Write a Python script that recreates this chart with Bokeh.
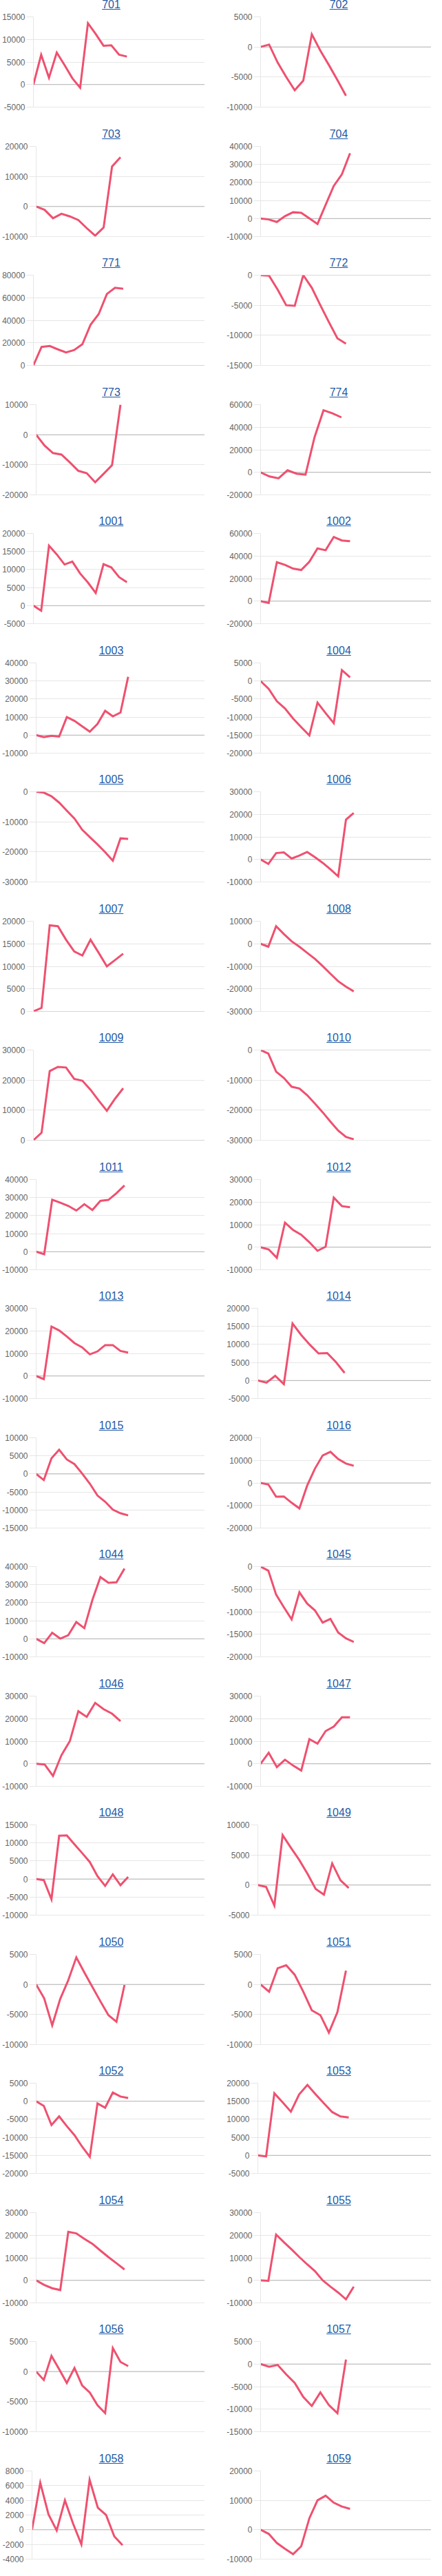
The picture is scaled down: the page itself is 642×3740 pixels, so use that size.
from bokeh.plotting import figure
from bokeh.models import Range1d, FixedTicker, NumeralTickFormatter, Span, Div, Spacer
from bokeh.layouts import row, column
from bokeh.embed import file_html
from bokeh.resources import INLINE

titles = ["701", "702", "703", "704", "771", "772", "773", "774",
          "1001", "1002", "1003", "1004", "1005", "1006", "1007", "1008",
          "1009", "1010", "1011", "1012", "1013", "1014", "1015", "1016",
          "1044", "1045", "1046", "1047", "1048", "1049", "1050", "1051",
          "1052", "1053", "1054", "1055", "1056", "1057", "1058", "1059"]

v701 = [0, 6600, 1500, 7100, 4300, 1400, -700, 13600, 11200, 8600, 8700, 6600, 6200]
v702 = [0, 400, -2600, -5000, -7200, -5600, 2100, -600, -3000, -5500, -8100]
v703 = [0, -1100, -3900, -2400, -3300, -4500, -7200, -9700, -7000, 13300, 16400]
v704 = [0, -500, -1900, 1300, 3500, 3200, 100, -3000, 7600, 18100, 24500, 36200]
v771 = [0, 16400, 17200, 14200, 11500, 13600, 18800, 36000, 45500, 63300, 68800, 68000]
v772 = [0, -100, -2400, -5000, -5100, 0, -2100, -5000, -7800, -10500, -11400]
v773 = [0, -3600, -6100, -6600, -9200, -12000, -12800, -15800, -13000, -10100, 10000]
v774 = [0, -3700, -5300, 1800, -1200, -2000, 31000, 55000, 52300, 48700]
v1001 = [0, -1400, 16600, 14200, 11400, 12200, 8900, 6400, 3500, 11500, 10600, 7900, 6500]
v1002 = [0, -1600, 34500, 32100, 28800, 27600, 34900, 46700, 45100, 56900, 53800, 53200]
v1003 = [0, -1100, -400, -800, 10000, 7900, 4900, 1900, 6200, 13500, 10400, 12500, 32300]
v1004 = [0, -2200, -5600, -7600, -10400, -12800, -15100, -6000, -8900, -11700, 3000, 1000]
v1005 = [0, -300, -1500, -3600, -6300, -8900, -12600, -15100, -17500, -20100, -22900, -15500, -15700]
v1006 = [0, -2000, 2800, 3100, 400, 1700, 3300, 1000, -1500, -4400, -7500, 17600, 20600]
v1007 = [0, 800, 19100, 18900, 15900, 13300, 12400, 15900, 13000, 10000, 11400, 12800]
v1008 = [0, -1300, 7800, 4300, 1100, -1300, -4000, -6700, -9900, -13300, -16600, -19000, -21100]
v1009 = [0, 2500, 23000, 24400, 24200, 20400, 19800, 16800, 13200, 9800, 13800, 17300]
v1010 = [0, -1200, -7200, -9300, -12200, -12800, -15000, -17800, -20700, -23800, -26800, -28900, -29700]
v1011 = [0, -1400, 28800, 27200, 25400, 22800, 26300, 23100, 28200, 28700, 32400, 36700]
v1012 = [0, -1000, -4700, 10900, 7600, 5500, 2200, -1600, 200, 22000, 18200, 17700]
v1013 = [0, -1400, 21900, 20200, 17500, 14600, 12700, 9600, 10900, 13700, 13700, 11100, 10400]
v1014 = [0, -600, 1300, -1000, 15800, 12600, 9900, 7500, 7600, 5100, 2100]
v1015 = [0, -1700, 4300, 6700, 4000, 2700, 100, -2700, -6000, -7700, -9900, -10900, -11500]
v1016 = [0, -700, -6100, -6000, -8800, -11300, -1200, 6300, 12200, 13800, 10600, 8600, 7600]
v1044 = [0, -2400, 3300, 100, 2000, 9300, 5900, 21500, 34200, 31000, 31300, 38900]
v1045 = [0, -900, -6200, -9000, -11700, -5700, -8200, -9700, -12400, -11600, -14600, -15900, -16700]
v1046 = [0, -300, -5400, 3800, 10100, 23300, 20800, 27000, 24200, 22200, 18900]
v1047 = [0, 4900, -1500, 1800, -800, -3000, 10900, 8900, 14500, 16500, 20600, 20600]
v1048 = [0, -300, -5600, 12000, 12100, 9600, 7200, 4700, 800, -1900, 1300, -1700, 600]
v1049 = [0, -300, -3400, 8300, 6200, 4200, 1900, -650, -1600, 3600, 800, -500]
v1050 = [0, -2300, -6800, -2400, 700, 4500, 2000, -400, -2800, -5100, -6200, -100]
v1051 = [0, -1200, 2700, 3200, 1600, -1200, -4300, -5100, -8000, -4600, 2300]
v1052 = [0, -1300, -6600, -4200, -6900, -9400, -12600, -15400, -600, -1800, 2400, 1300, 900]
v1053 = [0, -300, 17200, 14700, 12100, 16900, 19500, 16900, 14400, 12000, 10800, 10500]
v1054 = [0, -2000, -3500, -4300, 21500, 20800, 18400, 16200, 13200, 10300, 7600, 4800]
v1055 = [0, -200, 20300, 16900, 13700, 10300, 7100, 4100, 0, -2800, -5400, -8400, -2800]
v1056 = [0, -1400, 2600, 400, -1900, 600, -2300, -3500, -5600, -6900, 3900, 1600, 900]
v1057 = [0, -600, -200, -2300, -4200, -7300, -9300, -6300, -9100, -10900, 1000]
v1058 = [0, 6400, 2100, -100, 4000, 800, -2000, 6800, 3000, 2000, -900, -2100]
v1059 = [0, -1400, -4500, -6500, -8300, -5600, 3900, 10000, 11600, 9200, 7900, 7100]

series = [v701, v702, v703, v704, v771, v772, v773, v774,
          v1001, v1002, v1003, v1004, v1005, v1006, v1007, v1008,
          v1009, v1010, v1011, v1012, v1013, v1014, v1015, v1016,
          v1044, v1045, v1046, v1047, v1048, v1049, v1050, v1051,
          v1052, v1053, v1054, v1055, v1056, v1057, v1058, v1059]

# number of x categories on each chart (labels hidden)
n_labels = [23, 21, 21, 22, 22, 21, 21, 20,
            23, 22, 23, 22, 23, 23, 22, 23,
            22, 23, 22, 22, 23, 21, 23, 23,
            22, 23, 21, 22, 23, 22, 22, 21,
            23, 22, 22, 23, 23, 21, 22, 22]

y_min = [-5000, -10000, -10000, -10000, 0, -15000, -20000, -20000,
         -5000, -20000, -10000, -20000, -30000, -10000, 0, -30000,
         0, -30000, -10000, -10000, -10000, -5000, -15000, -20000,
         -10000, -20000, -10000, -10000, -10000, -5000, -10000, -10000,
         -20000, -5000, -10000, -10000, -10000, -15000, -4000, -10000]
y_max = [15000, 5000, 20000, 40000, 80000, 0, 10000, 60000,
         20000, 60000, 40000, 5000, 0, 30000, 20000, 10000,
         30000, 0, 40000, 30000, 30000, 20000, 10000, 20000,
         40000, 0, 30000, 30000, 15000, 10000, 5000, 5000,
         5000, 20000, 30000, 30000, 5000, 5000, 8000, 20000]
y_step = [5000, 5000, 10000, 10000, 20000, 5000, 10000, 20000,
          5000, 20000, 10000, 5000, 10000, 10000, 5000, 10000,
          10000, 10000, 10000, 10000, 10000, 5000, 5000, 10000,
          10000, 5000, 10000, 10000, 5000, 5000, 5000, 5000,
          5000, 5000, 10000, 10000, 5000, 5000, 2000, 10000]

LINE = "#ef506f"
GRID = "#e6e6e6"
ZERO = "#b5b5b5"
FONT = "Liberation Sans"

PAGE_H = 3724
PITCH = 187.5
N_ROWS = 20
TITLE_H = 16
FRAME_H = 131
TOP_B = 8


def make_panel(i, width, fig_h, bottom_b, pad):
    t = titles[i]
    d = Div(text=(f'<div style="width:{width}px;height:{TITLE_H}px;line-height:12px;'
                  f'text-align:center;padding-left:{pad}px;box-sizing:border-box;'
                  f"font-family:'{FONT}',Arial,sans-serif;font-size:16px;color:#1f5aa6;"
                  f'text-decoration:underline;white-space:nowrap;">{t}</div>'),
            width=width, height=TITLE_H, margin=(0, 0, 0, 0))
    vals = series[i]
    ticks = list(range(y_min[i], y_max[i] + 1, y_step[i]))
    p = figure(width=width, height=fig_h, output_backend="svg", toolbar_location=None,
               tools="", x_range=Range1d(0, n_labels[i] - 1),
               y_range=Range1d(y_min[i], y_max[i]),
               min_border_left=0, min_border_right=0, min_border_top=TOP_B,
               min_border_bottom=bottom_b, outline_line_color=None,
               background_fill_color="white", border_fill_color="white",
               margin=(0, 0, 0, 0))
    p.xaxis.visible = False
    p.xgrid.visible = False
    p.yaxis.ticker = FixedTicker(ticks=ticks)
    p.yaxis.formatter = NumeralTickFormatter(format="0")
    p.yaxis.major_label_text_font = FONT
    p.yaxis.major_label_text_font_size = "12px"
    p.yaxis.major_label_text_color = "#666666"
    p.yaxis.major_tick_out = 10
    p.yaxis.major_tick_in = 0
    p.yaxis.major_tick_line_color = GRID
    p.yaxis.minor_tick_line_color = None
    p.yaxis.axis_line_color = GRID
    p.yaxis.major_label_standoff = 2
    p.ygrid.grid_line_color = GRID
    p.ygrid.ticker = FixedTicker(ticks=ticks)
    if y_min[i] <= 0 <= y_max[i]:
        p.add_layout(Span(location=0, dimension="width", line_color=ZERO,
                          line_width=1, level="underlay"))
    p.add_layout(Span(location=y_min[i], dimension="width", line_color="#d2d2d2",
                      line_width=1, level="underlay"))
    p.line(x=list(range(len(vals))), y=vals, line_color=LINE, line_width=3,
           line_join="miter")
    return column([d, p], spacing=0, margin=(0, 0, 0, 0))


rows = []
used = 0
for r in range(N_ROWS):
    if r < N_ROWS - 1:
        row_h = int(PITCH * (r + 1) + 0.5) - int(PITCH * r + 0.5)
        fig_h = row_h - TITLE_H
        bottom_b = fig_h - TOP_B - FRAME_H
    else:
        row_h = PAGE_H - used
        fig_h = row_h - TITLE_H
        bottom_b = 9
    used += row_h
    left = make_panel(2 * r, 297, fig_h, bottom_b, 26)
    right = make_panel(2 * r + 1, 300, fig_h, bottom_b, 32)
    rows.append(row([left, Spacer(width=29, height=row_h, margin=(0, 0, 0, 0)), right],
                    spacing=0, margin=(0, 0, 0, 0)))

layout = column(rows, spacing=0, margin=(0, 0, 0, 0))

open("out.html", "w").write(file_html(layout, INLINE))
